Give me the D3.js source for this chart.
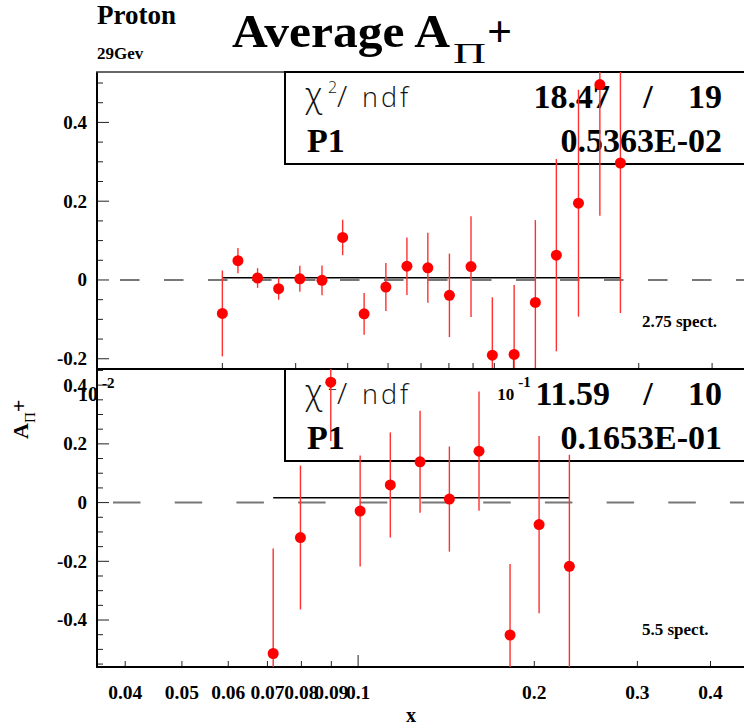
<!DOCTYPE html>
<html><head><meta charset="utf-8">
<script src="https://cdn.jsdelivr.net/npm/d3@7"></script>
<style>body{margin:0;background:#fff} svg{display:block}</style>
</head><body>
<svg id="c" width="744" height="727"></svg>
<script>
// ---- data ----
const xTop = [0.0200,0.0218,0.0243,0.0273,0.0307,0.0347,0.0389,0.0438,0.0494,0.0555,0.0623,0.0702,0.0791,0.0890,0.1004,0.1129,0.1268,0.1433,0.1613,0.1807];
const yTop = [-0.085,0.049,0.005,-0.022,0.003,-0.001,0.108,-0.086,-0.018,0.035,0.031,-0.039,0.034,-0.191,-0.189,-0.057,0.063,0.195,0.496,0.297];
const eTop = [0.109,0.032,0.025,0.028,0.033,0.038,0.045,0.053,0.061,0.073,0.089,0.106,0.128,0.147,0.176,0.209,0.244,0.288,0.333,0.381];

const xBot = [0.0716,0.0797,0.0898,0.1008,0.1135,0.1276,0.1432,0.1609,0.1818,0.2038,0.2296];
const yBot = [-0.514,-0.119,0.410,-0.029,0.060,0.139,0.012,0.175,-0.451,-0.075,-0.217];
const eBot = [0.358,0.245,0.200,0.189,0.179,0.174,0.179,0.203,0.242,0.302,0.380];

const fitP1 = [0.005363, 0.01653];
const chi2Labels = ["18.47", "11.59"];
const ndfLabels = ["19", "10"];
const p1Labels = ["0.5363E-02", "0.1653E-01"];
const spectLabels = ["2.75 spect.", "5.5 spect."];
const xTickLabelsBottom = [0.04,0.05,0.06,0.07,0.08,0.09,0.1,0.2,0.3,0.4];
const yMajorTop = [-0.2,0,0.2,0.4];
const yMajorBot = [-0.4,-0.2,0,0.2,0.4];

// ---- drawing ----
const serif = "'Liberation Serif','Times New Roman',serif";
const sans = "'Open Sans','DejaVu Sans',sans-serif";
const svg = d3.select("#c");

const panels = [
  {x0:97, x1:760, y0:72, y1:369, xDom:[0.01,0.391], yDom:[-0.226,0.528],
   xs:xTop, ys:yTop, es:eTop, yMajor:yMajorTop, dash:"19.5,24.5", dashOff:21, id:0},
  {x0:97, x1:760, y0:369, y1:667, xDom:[0.0358,0.486], yDom:[-0.56,0.455],
   xs:xBot, ys:yBot, es:eBot, yMajor:yMajorBot, dash:"27.5,34.2", dashOff:45.7, id:1}
];

function fmtY(v){ return Math.abs(v)<1e-9 ? "0" : String(+v.toFixed(1)); }

panels.forEach(p => {
  const x = d3.scaleLog().domain(p.xDom).range([p.x0, p.x1]);
  const y = d3.scaleLinear().domain(p.yDom).range([p.y1, p.y0]);
  const g = svg.append("g");
  const clipId = "clip"+p.id;
  svg.append("clipPath").attr("id", clipId).append("rect")
    .attr("x", p.x0).attr("y", p.y0).attr("width", p.x1-p.x0).attr("height", p.y1-p.y0);

  // zero dashed line
  g.append("line").attr("x1", p.x0).attr("x2", p.x1).attr("y1", y(0)).attr("y2", y(0))
    .attr("stroke", "#777").attr("stroke-width", 2)
    .attr("stroke-dasharray", p.dash).attr("stroke-dashoffset", p.dashOff);

  // y ticks
  const yMin = Math.ceil(p.yDom[0]/0.05 - 1e-6), yMax = Math.floor(p.yDom[1]/0.05 + 1e-6);
  for (let k = yMin; k <= yMax; k++) {
    const v = k*0.05;
    const major = p.yMajor.some(m => Math.abs(m - v) < 1e-6);
    g.append("line").attr("x1", p.x0).attr("x2", p.x0 + (major ? 12 : 6))
      .attr("y1", y(v)).attr("y2", y(v)).attr("stroke", "#222").attr("stroke-width", 1);
  }
  p.yMajor.forEach(v => {
    g.append("text").attr("x", 87).attr("y", y(v)).attr("dy", "0.34em")
      .attr("text-anchor", "end").attr("font-family", serif).attr("font-weight", "bold")
      .attr("font-size", 19).text(fmtY(v));
  });

  // x ticks (log)
  for (let d = 0.01; d < 1; d *= 10) {
    for (let k = 1; k <= 9; k++) {
      const v = k*d;
      if (v <= p.xDom[0]*1.001 || v >= p.xDom[1]) continue;
      g.append("line").attr("x1", x(v)).attr("x2", x(v))
        .attr("y1", p.y1).attr("y2", p.y1 - (k === 1 ? 12 : 6))
        .attr("stroke", "#222").attr("stroke-width", 1);
    }
  }

  // frame
  g.append("line").attr("x1", p.x0).attr("x2", p.x0).attr("y1", p.y0).attr("y2", p.y1)
    .attr("stroke", "#000").attr("stroke-width", 2);
  g.append("line").attr("x1", p.x0-1).attr("x2", p.x1).attr("y1", p.y1).attr("y2", p.y1)
    .attr("stroke", "#000").attr("stroke-width", 2);
  if (p.id === 0) {
    g.append("line").attr("x1", p.x0-1).attr("x2", p.x1).attr("y1", p.y0).attr("y2", p.y0)
      .attr("stroke", "#333").attr("stroke-width", 1.5);
  }

  // fit line
  g.append("line").attr("x1", x(p.xs[0])).attr("x2", x(p.xs[p.xs.length-1]))
    .attr("y1", y(fitP1[p.id])).attr("y2", y(fitP1[p.id]))
    .attr("stroke", "#000").attr("stroke-width", 1.5);

  // stat box
  const bx = 285, by = p.y0, bh = 92;
  g.append("rect").attr("x", bx).attr("y", by).attr("width", 520).attr("height", bh)
    .attr("fill", "#fff").attr("stroke", "#000").attr("stroke-width", 2);
  const t1 = g.append("text").attr("x", 307).attr("y", by+35)
    .attr("font-family", sans).attr("font-weight", 300).attr("font-size", 28).attr("fill", "#111");
  t1.append("tspan").attr("x", 305).attr("font-size", 34).text("χ");
  t1.append("tspan").attr("x", 328).attr("dy", -14).attr("font-size", 16).text("2");
  t1.append("tspan").attr("x", 337).attr("dy", 14).attr("font-size", 30).text("/");
  t1.append("tspan").attr("x", 362).attr("letter-spacing", 3).attr("font-size", 27).text("ndf");
  const bold = s => s.attr("font-family", serif).attr("font-weight", "bold").attr("font-size", 34);
  bold(g.append("text").attr("x", 610).attr("y", by+36).attr("text-anchor", "end")).text(chi2Labels[p.id]);
  bold(g.append("text").attr("x", 648).attr("y", by+36).attr("text-anchor", "middle")).text("/");
  bold(g.append("text").attr("x", 722).attr("y", by+36).attr("text-anchor", "end")).text(ndfLabels[p.id]);
  bold(g.append("text").attr("x", 307).attr("y", by+80)).text("P1");
  bold(g.append("text").attr("x", 722).attr("y", by+80).attr("text-anchor", "end")).text(p1Labels[p.id]);

  // spect label
  g.append("text").attr("x", 642).attr("y", p.id === 0 ? 327 : 635)
    .attr("font-family", serif).attr("font-weight", "bold").attr("font-size", 17)
    .text(spectLabels[p.id]);

  // points with error bars
  const pts = svg.append("g").attr("clip-path", `url(#${clipId})`);
  p.xs.forEach((xv, i) => {
    pts.append("line").attr("x1", x(xv)).attr("x2", x(xv))
      .attr("y1", y(p.ys[i] - p.es[i])).attr("y2", y(p.ys[i] + p.es[i]))
      .attr("stroke", "#ff3030").attr("stroke-width", 1.4);
    pts.append("circle").attr("cx", x(xv)).attr("cy", y(p.ys[i])).attr("r", 5.5).attr("fill", "#f00");
  });

  p.xScale = x;
});

// top panel x labels (10^-2, 10^-1)
const xt = panels[0].xScale;
[[0.01, "-2", 20, 401], [0.1, "-1", 17, 400]].forEach(([v, e, fs, yy]) => {
  const t = svg.append("text").attr("x", xt(v) - fs*0.95).attr("y", yy)
    .attr("font-family", serif).attr("font-weight", "bold").attr("font-size", fs);
  t.append("tspan").text("10");
  t.append("tspan").attr("dx", 4).attr("dy", -13).attr("font-size", 15).text(e);
});

// bottom panel x labels
const xb = panels[1].xScale;
xTickLabelsBottom.forEach(v => {
  svg.append("text").attr("x", xb(v)).attr("y", 699).attr("text-anchor", "middle")
    .attr("font-family", serif).attr("font-weight", "bold").attr("font-size", 19.5).text(String(v));
});

// axis titles
svg.append("text").attr("x", 411).attr("y", 722).attr("text-anchor", "middle")
  .attr("font-family", serif).attr("font-weight", "bold").attr("font-size", 20).text("x");
const yl = svg.append("text").attr("transform", "translate(28,439) rotate(-90)")
  .attr("font-family", serif).attr("font-weight", "bold").attr("font-size", 22);
yl.append("tspan").text("A");
yl.append("tspan").attr("dy", 7).attr("font-weight", "normal").attr("font-size", 15).text("Π");
yl.append("tspan").attr("dy", -9).text("+");

// titles
svg.append("text").attr("x", 97).attr("y", 24).attr("font-family", serif)
  .attr("font-weight", "bold").attr("font-size", 27).text("Proton");
svg.append("text").attr("x", 97).attr("y", 59).attr("font-family", serif)
  .attr("font-weight", "bold").attr("font-size", 17).text("29Gev");
svg.append("text").attr("x", 232).attr("y", 47).attr("font-family", serif)
  .attr("font-weight", "bold").attr("font-size", 47)
  .attr("textLength", 218).attr("lengthAdjust", "spacingAndGlyphs").text("Average A");
svg.append("text").attr("x", 453).attr("y", 63).attr("font-family", serif)
  .attr("font-size", 30).attr("textLength", 33).attr("lengthAdjust", "spacingAndGlyphs").text("Π");
svg.append("text").attr("x", 487).attr("y", 46).attr("font-family", serif)
  .attr("font-weight", "bold").attr("font-size", 44).text("+");
</script>
</body></html>
